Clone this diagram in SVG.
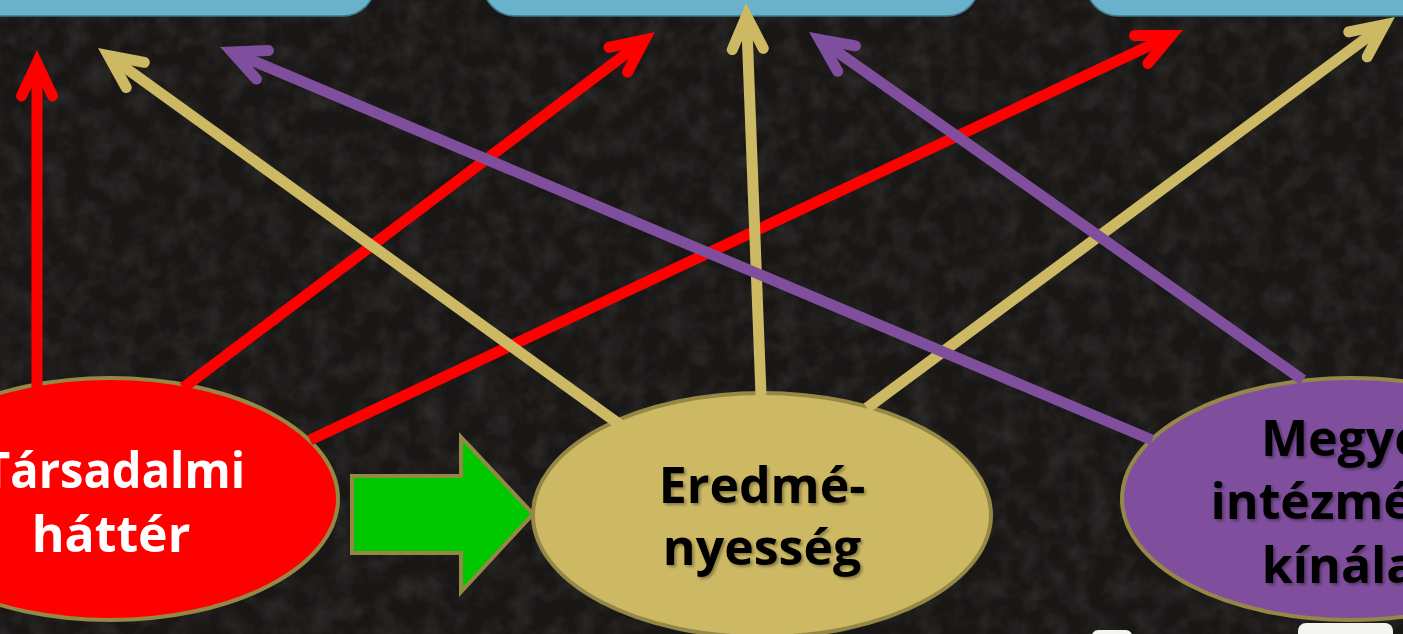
<svg xmlns="http://www.w3.org/2000/svg" width="1403" height="634" viewBox="0 0 1403 634">
  <style>
    .box { fill: #6ab1cb; stroke: #3f7688; stroke-width: 1.5; }
    .ell { stroke: #958846; stroke-width: 4; }
    .lbl { font-family: "Open Sans", "Liberation Sans", sans-serif; font-weight: 700; font-size: 50px; text-anchor: middle; }
    .dark { fill: #000; filter: url(#shadow); }
    .light { fill: #fff; }
    .conn { fill: none; stroke-width: 11; stroke-linecap: butt; }
    .red { stroke: #ff0000; marker-end: url(#hRed); }
    .tan { stroke: #cdb964; marker-end: url(#hTan); }
    .pur { stroke: #7f4f9e; marker-end: url(#hPur); }
  </style>
  <defs>
    <filter id="chalk" x="0" y="0" width="100%" height="100%">
      <feTurbulence type="fractalNoise" baseFrequency="0.045" numOctaves="4" seed="4"/>
      <feColorMatrix type="matrix" values="0 0 0 0 1  0 0 0 0 1  0 0 0 0 1  0.16 0 0 0 -0.06"/>
    </filter>
    <filter id="shadow" x="-10%" y="-10%" width="130%" height="140%">
      <feDropShadow dx="2" dy="2" stdDeviation="1.5" flood-color="#000" flood-opacity="0.35"/>
    </filter>
    <marker id="hRed" markerUnits="userSpaceOnUse" orient="auto" overflow="visible" markerWidth="10" markerHeight="10" refX="0" refY="0">
      <path d="M -33,-15.5 L 0,0 L -33,15.5" fill="none" stroke="#ff0000" stroke-width="11" stroke-linecap="round" stroke-linejoin="miter" stroke-miterlimit="10"/>
    </marker>
    <marker id="hTan" markerUnits="userSpaceOnUse" orient="auto" overflow="visible" markerWidth="10" markerHeight="10" refX="0" refY="0">
      <path d="M -33,-15.5 L 0,0 L -33,15.5" fill="none" stroke="#cdb964" stroke-width="11" stroke-linecap="round" stroke-linejoin="miter" stroke-miterlimit="10"/>
    </marker>
    <marker id="hPur" markerUnits="userSpaceOnUse" orient="auto" overflow="visible" markerWidth="10" markerHeight="10" refX="0" refY="0">
      <path d="M -33,-15.5 L 0,0 L -33,15.5" fill="none" stroke="#7f4f9e" stroke-width="11" stroke-linecap="round" stroke-linejoin="miter" stroke-miterlimit="10"/>
    </marker>
  </defs>

  <rect x="0" y="0" width="1403" height="634" fill="#191716"/>
  <rect x="0" y="0" width="1403" height="634" filter="url(#chalk)"/>

  <g id="box-left"><rect class="box" x="-60" y="-60" width="435" height="76" rx="32"/></g>
  <g id="box-middle"><rect class="box" x="483" y="-60" width="496" height="76" rx="32"/></g>
  <g id="box-right"><rect class="box" x="1086" y="-60" width="400" height="76" rx="32"/></g>

  <g id="bottom-white">
    <rect x="1092" y="630" width="40" height="20" rx="6" fill="#f4f4f2"/>
    <rect x="1298" y="623" width="95" height="25" rx="8" fill="#f4f4f2"/>
  </g>

  <g id="green-arrow">
    <polygon points="352,476 461,476 461,437 533,514 461,592 461,553 352,553" fill="#00c800" stroke="#958846" stroke-width="4" stroke-linejoin="miter"/>
  </g>

  <g id="node-tarsadalmi">
    <ellipse class="ell" cx="110" cy="499" rx="228" ry="121" fill="#ff0000"/>
    <text class="lbl light" x="114" y="488" textLength="262" lengthAdjust="spacingAndGlyphs">Társadalmi</text>
    <text class="lbl light" x="111" y="552">háttér</text>
  </g>

  <g id="node-eredmenyesseg">
    <ellipse class="ell" cx="762" cy="515" rx="229" ry="122" fill="#cdb964"/>
    <text class="lbl dark" x="762" y="503">Eredmé-</text>
    <text class="lbl dark" x="762" y="565">nyesség</text>
  </g>

  <g id="node-megyei">
    <ellipse class="ell" cx="1350" cy="499" rx="228" ry="121" fill="#7f4f9e"/>
    <text class="lbl dark" x="1350" y="456">Megyei</text>
    <text class="lbl dark" x="1350" y="519">intézményi</text>
    <text class="lbl dark" x="1350" y="583">kínálat</text>
  </g>

  <g id="connectors">
    <line class="conn red" x1="37" y1="392" x2="37" y2="63"/>
    <line class="conn red" x1="183" y1="388" x2="644.6" y2="39.8"/>
    <line class="conn red" x1="310" y1="440" x2="1171.2" y2="35.5"/>
    <line class="conn tan" x1="637" y1="437" x2="108.5" y2="55.6"/>
    <line class="conn tan" x1="761" y1="395" x2="746.5" y2="16"/>
    <line class="conn tan" x1="867" y1="408" x2="1384.5" y2="24.7"/>
    <line class="conn pur" x1="1152" y1="440" x2="232" y2="52"/>
    <line class="conn pur" x1="1303" y1="380" x2="819.6" y2="39.5"/>
  </g>
</svg>
